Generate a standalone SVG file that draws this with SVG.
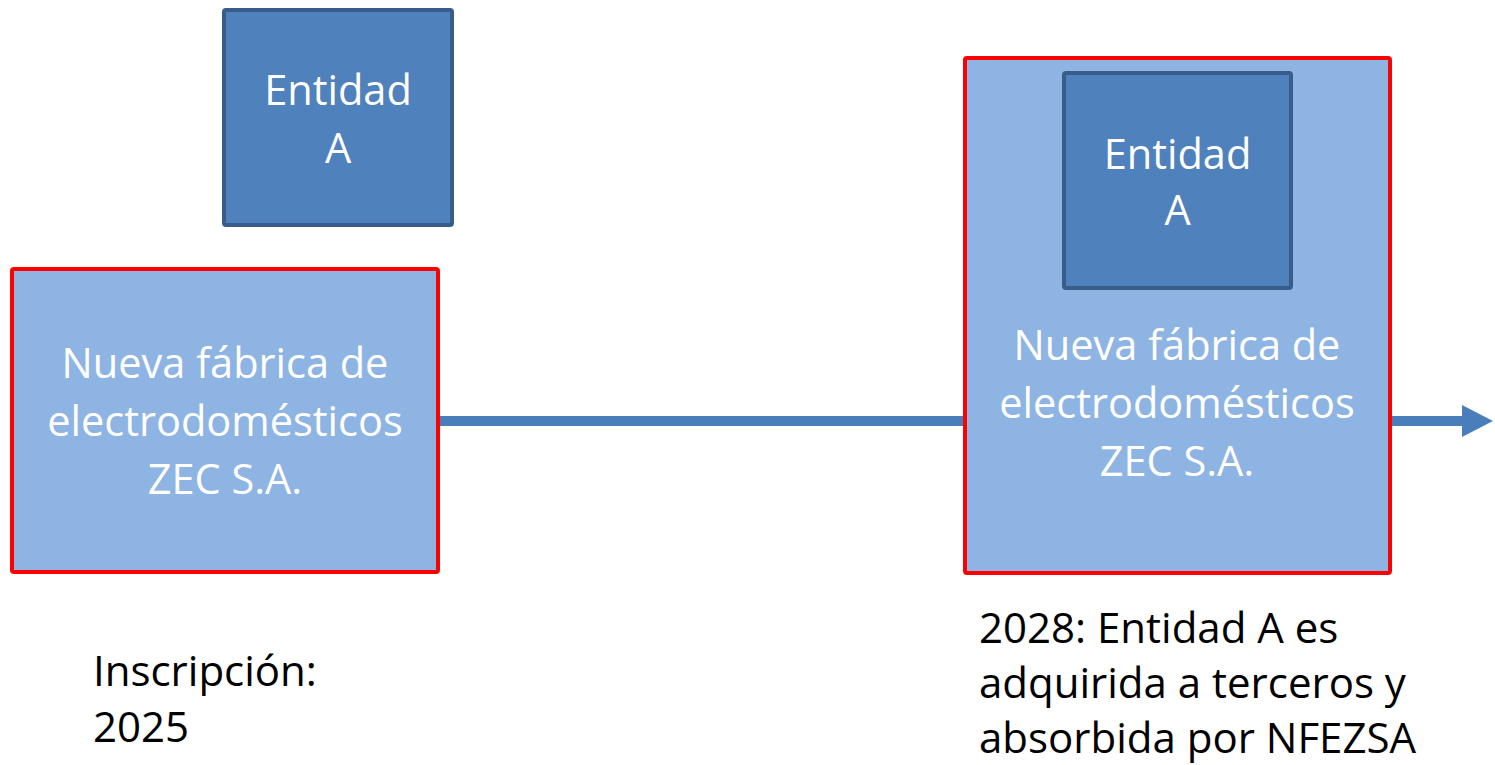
<svg xmlns="http://www.w3.org/2000/svg" width="1495" height="765" viewBox="0 0 1495 765">
<style>
.big{fill:#8eb4e3;stroke:#ff0000;stroke-width:4}
.ent{fill:#4f81bd;stroke:#385d8a;stroke-width:4}
.wt{font-family:"Open Sans","Noto Sans",sans-serif;font-size:41.5px;fill:#ffffff;text-anchor:middle}
.bt{font-family:"Open Sans","Noto Sans",sans-serif;font-size:42px;fill:#000000}
.conn{stroke:#4a7ebb;stroke-width:10;fill:none}
</style>
<defs>
<marker id="ah" markerUnits="userSpaceOnUse" markerWidth="32" markerHeight="32" refX="0" refY="16" orient="auto">
<path d="M0,0 L31,16 L0,32 Z" fill="#4a7ebb"/>
</marker>
</defs>
<g id="connectors">
<line class="conn" x1="438" y1="421" x2="965" y2="421"/>
<line class="conn" x1="1390" y1="421" x2="1462" y2="421" marker-end="url(#ah)"/>
</g>
<g id="entidadA1">
<rect class="ent" x="224" y="10" width="228" height="215" rx="2"/>
<text class="wt" x="338" y="105">Entidad</text>
<text class="wt" x="338" y="163">A</text>
</g>
<g id="nfezsa1">
<rect class="big" x="12" y="269" width="426" height="303" rx="2"/>
<text class="wt" x="225" y="378">Nueva fábrica de</text>
<text class="wt" x="225" y="436">electrodomésticos</text>
<text class="wt" x="225" y="494">ZEC S.A.</text>
</g>
<g id="nfezsa2">
<rect class="big" x="965" y="58" width="425" height="515" rx="2"/>
<text class="wt" x="1177" y="360">Nueva fábrica de</text>
<text class="wt" x="1177" y="418">electrodomésticos</text>
<text class="wt" x="1177" y="476">ZEC S.A.</text>
</g>
<g id="entidadA2">
<rect class="ent" x="1064" y="73" width="227" height="215" rx="2"/>
<text class="wt" x="1177.5" y="169">Entidad</text>
<text class="wt" x="1177.5" y="225">A</text>
</g>
<g id="label2025">
<text class="bt" x="93" y="686">Inscripción:</text>
<text class="bt" x="93" y="742">2025</text>
</g>
<g id="label2028">
<text class="bt" x="979" y="643">2028: Entidad A es</text>
<text class="bt" x="979" y="698">adquirida a terceros y</text>
<text class="bt" x="979" y="753">absorbida por NFEZSA</text>
</g>
</svg>
